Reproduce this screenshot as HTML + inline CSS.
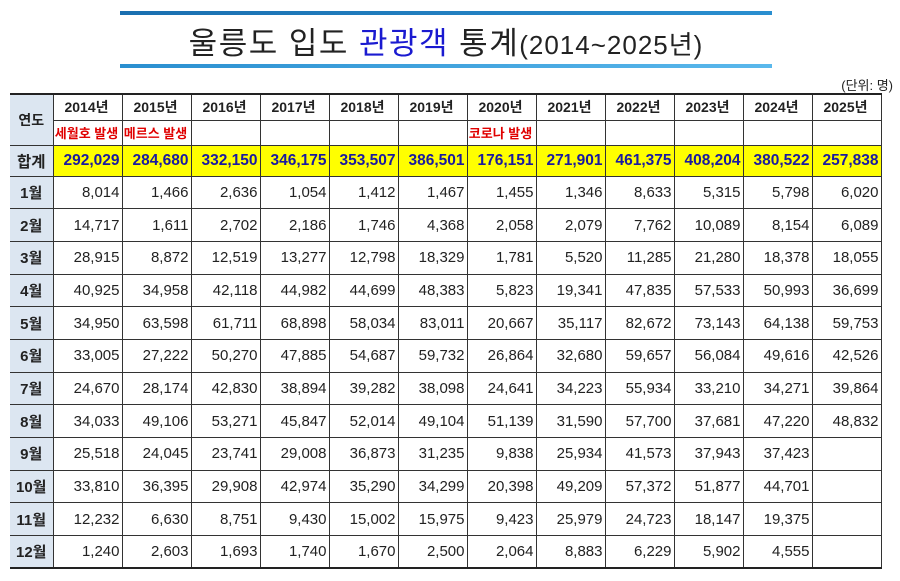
<!DOCTYPE html>
<html><head><meta charset="utf-8"><style>
body{margin:0;width:900px;height:581px;background:#fff;font-family:"Liberation Sans","Noto Sans CJK KR",sans-serif;position:relative;overflow:hidden}
.l1{position:absolute;left:120px;top:11px;width:652px;height:4px;background:linear-gradient(90deg,#1a6fb0,#2a8fd0)}
.l2{position:absolute;left:120px;top:64px;width:652px;height:4px;background:linear-gradient(90deg,#2a8fd0,#5ab8ec)}
.title{position:absolute;left:60px;width:772px;top:18px;text-align:center;font-size:31px;color:#222;letter-spacing:1.5px}
.title b{font-weight:normal;color:#1a1ad0}
.title span{font-size:26px;letter-spacing:1px}
.unit{position:absolute;right:7px;top:75px;font-size:13px;color:#222}
table{position:absolute;left:10px;top:93px;border-collapse:collapse;table-layout:fixed;width:871px}
td{border:1px solid #333;padding:0 2px 0 0;font-size:15px;text-align:right;color:#222;height:32.7px;box-sizing:border-box}
td.h{background:#dce6f1;font-weight:bold;text-align:center;border-left:none;padding:0}
tr.yr td{height:26px;text-align:center;font-weight:bold;font-size:14px;border-bottom:1px dashed #555;border-top:2px solid #222}
tr.ev td{height:25px;text-align:center;font-weight:bold;font-size:13px;color:#e00000}
tr.sum td{height:31px;background:#ffff00;color:#1a1aa0;font-weight:bold;font-size:15.5px;border-top:1.5px solid #222}
tr.sum td.h{background:#dce6f1;color:#222}
tr:last-child td{border-bottom:2px solid #222}
</style></head><body>
<div class="l1"></div><div class="l2"></div>
<div class="title">울릉도 입도 <b>관광객</b> 통계<span>(2014~2025년)</span></div>
<div class="unit">(단위: 명)</div>
<table>
<colgroup><col style="width:43px"><col span="12" style="width:69px"></colgroup>
<tr class="yr"><td class="h" rowspan="2" style="border-bottom:1px solid #333">연도</td><td>2014년</td><td>2015년</td><td>2016년</td><td>2017년</td><td>2018년</td><td>2019년</td><td>2020년</td><td>2021년</td><td>2022년</td><td>2023년</td><td>2024년</td><td>2025년</td></tr>
<tr class="ev"><td>세월호 발생</td><td>메르스 발생</td><td></td><td></td><td></td><td></td><td>코로나 발생</td><td></td><td></td><td></td><td></td><td></td></tr>
<tr class="sum"><td class="h">합계</td><td>292,029</td><td>284,680</td><td>332,150</td><td>346,175</td><td>353,507</td><td>386,501</td><td>176,151</td><td>271,901</td><td>461,375</td><td>408,204</td><td>380,522</td><td>257,838</td></tr>
<tr><td class="h">1월</td><td>8,014</td><td>1,466</td><td>2,636</td><td>1,054</td><td>1,412</td><td>1,467</td><td>1,455</td><td>1,346</td><td>8,633</td><td>5,315</td><td>5,798</td><td>6,020</td></tr>
<tr><td class="h">2월</td><td>14,717</td><td>1,611</td><td>2,702</td><td>2,186</td><td>1,746</td><td>4,368</td><td>2,058</td><td>2,079</td><td>7,762</td><td>10,089</td><td>8,154</td><td>6,089</td></tr>
<tr><td class="h">3월</td><td>28,915</td><td>8,872</td><td>12,519</td><td>13,277</td><td>12,798</td><td>18,329</td><td>1,781</td><td>5,520</td><td>11,285</td><td>21,280</td><td>18,378</td><td>18,055</td></tr>
<tr><td class="h">4월</td><td>40,925</td><td>34,958</td><td>42,118</td><td>44,982</td><td>44,699</td><td>48,383</td><td>5,823</td><td>19,341</td><td>47,835</td><td>57,533</td><td>50,993</td><td>36,699</td></tr>
<tr><td class="h">5월</td><td>34,950</td><td>63,598</td><td>61,711</td><td>68,898</td><td>58,034</td><td>83,011</td><td>20,667</td><td>35,117</td><td>82,672</td><td>73,143</td><td>64,138</td><td>59,753</td></tr>
<tr><td class="h">6월</td><td>33,005</td><td>27,222</td><td>50,270</td><td>47,885</td><td>54,687</td><td>59,732</td><td>26,864</td><td>32,680</td><td>59,657</td><td>56,084</td><td>49,616</td><td>42,526</td></tr>
<tr><td class="h">7월</td><td>24,670</td><td>28,174</td><td>42,830</td><td>38,894</td><td>39,282</td><td>38,098</td><td>24,641</td><td>34,223</td><td>55,934</td><td>33,210</td><td>34,271</td><td>39,864</td></tr>
<tr><td class="h">8월</td><td>34,033</td><td>49,106</td><td>53,271</td><td>45,847</td><td>52,014</td><td>49,104</td><td>51,139</td><td>31,590</td><td>57,700</td><td>37,681</td><td>47,220</td><td>48,832</td></tr>
<tr><td class="h">9월</td><td>25,518</td><td>24,045</td><td>23,741</td><td>29,008</td><td>36,873</td><td>31,235</td><td>9,838</td><td>25,934</td><td>41,573</td><td>37,943</td><td>37,423</td><td></td></tr>
<tr><td class="h">10월</td><td>33,810</td><td>36,395</td><td>29,908</td><td>42,974</td><td>35,290</td><td>34,299</td><td>20,398</td><td>49,209</td><td>57,372</td><td>51,877</td><td>44,701</td><td></td></tr>
<tr><td class="h">11월</td><td>12,232</td><td>6,630</td><td>8,751</td><td>9,430</td><td>15,002</td><td>15,975</td><td>9,423</td><td>25,979</td><td>24,723</td><td>18,147</td><td>19,375</td><td></td></tr>
<tr><td class="h">12월</td><td>1,240</td><td>2,603</td><td>1,693</td><td>1,740</td><td>1,670</td><td>2,500</td><td>2,064</td><td>8,883</td><td>6,229</td><td>5,902</td><td>4,555</td><td></td></tr>
</table>
</body></html>
